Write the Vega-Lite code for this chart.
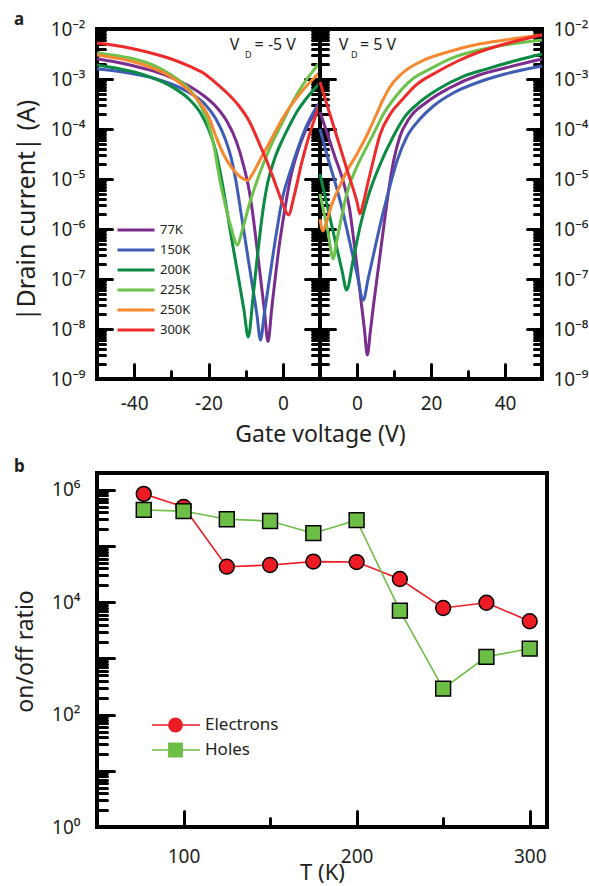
{
  "$schema": "https://vega.github.io/schema/vega-lite/v6.json",
  "padding": {"left": 12, "top": 9, "right": 0, "bottom": 0},
  "background": "white",
  "config": {
    "font": "Noto Sans",
    "view": {"stroke": "black", "strokeWidth": 4},
    "axis": {"domain": false, "grid": false, "tickColor": "black", "tickWidth": 3, "tickCap": "round", "labelColor": "#231f20", "titleColor": "#231f20", "labelFont": "Noto Sans", "titleFont": "Noto Sans", "titleFontWeight": "normal", "labelFontSize": 19, "titleFontSize": 23},
    "legend": {"labelFont": "Noto Sans", "labelColor": "#231f20", "padding": 0},
    "title": {"font": "Noto Sans", "color": "#231f20"},
    "text": {"font": "Noto Sans", "color": "#231f20"}
  },
  "datasets": {
    "iv": [
      {"side":"neg","T":"77K","V":-50,"I":2.51e-3},{"side":"neg","T":"77K","V":-45,"I":2.19e-3},{"side":"neg","T":"77K","V":-40,"I":1.82e-3},{"side":"neg","T":"77K","V":-35,"I":1.45e-3},{"side":"neg","T":"77K","V":-30,"I":1.07e-3},{"side":"neg","T":"77K","V":-25,"I":7.08e-4},{"side":"neg","T":"77K","V":-21,"I":4.47e-4},{"side":"neg","T":"77K","V":-18,"I":2.82e-4},{"side":"neg","T":"77K","V":-15,"I":1.41e-4},{"side":"neg","T":"77K","V":-12.5,"I":5.62e-5},{"side":"neg","T":"77K","V":-10.5,"I":1.78e-5},{"side":"neg","T":"77K","V":-9,"I":5.62e-6},{"side":"neg","T":"77K","V":-8,"I":1.78e-6},{"side":"neg","T":"77K","V":-7,"I":4.47e-7},{"side":"neg","T":"77K","V":-6,"I":1.05e-7},{"side":"neg","T":"77K","V":-5,"I":2.51e-8},{"side":"neg","T":"77K","V":-4,"I":5.62e-9},{"side":"neg","T":"77K","V":-3,"I":2.51e-8},{"side":"neg","T":"77K","V":-2,"I":1.12e-7},{"side":"neg","T":"77K","V":-1,"I":4.47e-7},{"side":"neg","T":"77K","V":0,"I":1.41e-6},{"side":"neg","T":"77K","V":1,"I":3.98e-6},{"side":"neg","T":"77K","V":2,"I":1e-5},{"side":"neg","T":"77K","V":4,"I":3.55e-5},{"side":"neg","T":"77K","V":6,"I":8.91e-5},{"side":"neg","T":"77K","V":8,"I":1.78e-4},{"side":"neg","T":"77K","V":10,"I":3.16e-4},
      {"side":"neg","T":"150K","V":-50,"I":1.58e-3},{"side":"neg","T":"150K","V":-45,"I":1.45e-3},{"side":"neg","T":"150K","V":-40,"I":1.26e-3},{"side":"neg","T":"150K","V":-35,"I":1.05e-3},{"side":"neg","T":"150K","V":-30,"I":7.94e-4},{"side":"neg","T":"150K","V":-25,"I":5.25e-4},{"side":"neg","T":"150K","V":-21,"I":3.16e-4},{"side":"neg","T":"150K","V":-18,"I":1.58e-4},{"side":"neg","T":"150K","V":-15.5,"I":6.31e-5},{"side":"neg","T":"150K","V":-14,"I":2.82e-5},{"side":"neg","T":"150K","V":-12.6,"I":8.91e-6},{"side":"neg","T":"150K","V":-11,"I":1.58e-6},{"side":"neg","T":"150K","V":-9,"I":1.78e-7},{"side":"neg","T":"150K","V":-7,"I":2.0e-8},{"side":"neg","T":"150K","V":-6,"I":6.03e-9},{"side":"neg","T":"150K","V":-5,"I":2.0e-8},{"side":"neg","T":"150K","V":-4,"I":6.31e-8},{"side":"neg","T":"150K","V":-3,"I":2.0e-7},{"side":"neg","T":"150K","V":-2,"I":6.31e-7},{"side":"neg","T":"150K","V":-1,"I":1.78e-6},{"side":"neg","T":"150K","V":0,"I":4.47e-6},{"side":"neg","T":"150K","V":2,"I":1.41e-5},{"side":"neg","T":"150K","V":4,"I":3.98e-5},{"side":"neg","T":"150K","V":6,"I":1e-4},{"side":"neg","T":"150K","V":8,"I":2.0e-4},{"side":"neg","T":"150K","V":10,"I":3.55e-4},
      {"side":"neg","T":"200K","V":-50,"I":1.91e-3},{"side":"neg","T":"200K","V":-45,"I":1.66e-3},{"side":"neg","T":"200K","V":-40,"I":1.38e-3},{"side":"neg","T":"200K","V":-35,"I":1.05e-3},{"side":"neg","T":"200K","V":-30,"I":7.08e-4},{"side":"neg","T":"200K","V":-25,"I":3.80e-4},{"side":"neg","T":"200K","V":-22,"I":2.0e-4},{"side":"neg","T":"200K","V":-20,"I":1e-4},{"side":"neg","T":"200K","V":-18,"I":3.55e-5},{"side":"neg","T":"200K","V":-16.5,"I":1e-5},{"side":"neg","T":"200K","V":-14,"I":7.94e-7},{"side":"neg","T":"200K","V":-12,"I":1.12e-7},{"side":"neg","T":"200K","V":-10.5,"I":2.51e-8},{"side":"neg","T":"200K","V":-9.3,"I":6.92e-9},{"side":"neg","T":"200K","V":-8,"I":4.47e-8},{"side":"neg","T":"200K","V":-7,"I":2.24e-7},{"side":"neg","T":"200K","V":-6,"I":1e-6},{"side":"neg","T":"200K","V":-5,"I":3.55e-6},{"side":"neg","T":"200K","V":-4,"I":8.91e-6},{"side":"neg","T":"200K","V":-2,"I":2.82e-5},{"side":"neg","T":"200K","V":0,"I":6.31e-5},{"side":"neg","T":"200K","V":2,"I":1.26e-4},{"side":"neg","T":"200K","V":4,"I":2.34e-4},{"side":"neg","T":"200K","V":6,"I":3.80e-4},{"side":"neg","T":"200K","V":8,"I":5.75e-4},{"side":"neg","T":"200K","V":10,"I":8.32e-4},
      {"side":"neg","T":"225K","V":-50,"I":3.31e-3},{"side":"neg","T":"225K","V":-45,"I":2.95e-3},{"side":"neg","T":"225K","V":-40,"I":2.51e-3},{"side":"neg","T":"225K","V":-35,"I":1.91e-3},{"side":"neg","T":"225K","V":-30,"I":1.20e-3},{"side":"neg","T":"225K","V":-25,"I":6.03e-4},{"side":"neg","T":"225K","V":-22,"I":2.82e-4},{"side":"neg","T":"225K","V":-20,"I":1.26e-4},{"side":"neg","T":"225K","V":-18.5,"I":4.47e-5},{"side":"neg","T":"225K","V":-17,"I":1e-5},{"side":"neg","T":"225K","V":-15.7,"I":3.55e-6},{"side":"neg","T":"225K","V":-14,"I":1.12e-6},{"side":"neg","T":"225K","V":-12.2,"I":4.79e-7},{"side":"neg","T":"225K","V":-11,"I":8.91e-7},{"side":"neg","T":"225K","V":-9,"I":3.16e-6},{"side":"neg","T":"225K","V":-7,"I":8.91e-6},{"side":"neg","T":"225K","V":-5,"I":2.24e-5},{"side":"neg","T":"225K","V":-3,"I":5.01e-5},{"side":"neg","T":"225K","V":0,"I":1.41e-4},{"side":"neg","T":"225K","V":2,"I":2.82e-4},{"side":"neg","T":"225K","V":4,"I":5.25e-4},{"side":"neg","T":"225K","V":6,"I":8.91e-4},{"side":"neg","T":"225K","V":8,"I":1.41e-3},{"side":"neg","T":"225K","V":10,"I":2.19e-3},
      {"side":"neg","T":"250K","V":-50,"I":3.02e-3},{"side":"neg","T":"250K","V":-45,"I":2.63e-3},{"side":"neg","T":"250K","V":-40,"I":2.19e-3},{"side":"neg","T":"250K","V":-35,"I":1.66e-3},{"side":"neg","T":"250K","V":-30,"I":1.10e-3},{"side":"neg","T":"250K","V":-25,"I":5.62e-4},{"side":"neg","T":"250K","V":-22,"I":3.16e-4},{"side":"neg","T":"250K","V":-20,"I":1.78e-4},{"side":"neg","T":"250K","V":-18,"I":7.08e-5},{"side":"neg","T":"250K","V":-16,"I":3.16e-5},{"side":"neg","T":"250K","V":-14,"I":1.78e-5},{"side":"neg","T":"250K","V":-12,"I":1.20e-5},{"side":"neg","T":"250K","V":-11,"I":1.05e-5},{"side":"neg","T":"250K","V":-9.5,"I":9.33e-6},{"side":"neg","T":"250K","V":-8,"I":1.32e-5},{"side":"neg","T":"250K","V":-6,"I":2.51e-5},{"side":"neg","T":"250K","V":-4,"I":4.68e-5},{"side":"neg","T":"250K","V":-2,"I":8.91e-5},{"side":"neg","T":"250K","V":0,"I":1.66e-4},{"side":"neg","T":"250K","V":2,"I":2.82e-4},{"side":"neg","T":"250K","V":4,"I":4.47e-4},{"side":"neg","T":"250K","V":6,"I":6.76e-4},{"side":"neg","T":"250K","V":8,"I":9.77e-4},{"side":"neg","T":"250K","V":10,"I":1.38e-3},
      {"side":"neg","T":"300K","V":-50,"I":5.25e-3},{"side":"neg","T":"300K","V":-45,"I":4.68e-3},{"side":"neg","T":"300K","V":-40,"I":3.98e-3},{"side":"neg","T":"300K","V":-35,"I":3.24e-3},{"side":"neg","T":"300K","V":-30,"I":2.51e-3},{"side":"neg","T":"300K","V":-25,"I":1.78e-3},{"side":"neg","T":"300K","V":-21,"I":1.26e-3},{"side":"neg","T":"300K","V":-18,"I":8.32e-4},{"side":"neg","T":"300K","V":-15,"I":5.25e-4},{"side":"neg","T":"300K","V":-12,"I":3.02e-4},{"side":"neg","T":"300K","V":-9,"I":1.41e-4},{"side":"neg","T":"300K","V":-6,"I":4.47e-5},{"side":"neg","T":"300K","V":-4,"I":2.0e-5},{"side":"neg","T":"300K","V":-2,"I":7.94e-6},{"side":"neg","T":"300K","V":0,"I":3.16e-6},{"side":"neg","T":"300K","V":1.5,"I":1.91e-6},{"side":"neg","T":"300K","V":3,"I":4.47e-6},{"side":"neg","T":"300K","V":5,"I":2.0e-5},{"side":"neg","T":"300K","V":7,"I":7.08e-5},{"side":"neg","T":"300K","V":9,"I":2.0e-4},{"side":"neg","T":"300K","V":10,"I":3.31e-4},
      {"side":"pos","T":"77K","V":-10,"I":2.19e-4},{"side":"pos","T":"77K","V":-8,"I":7.94e-5},{"side":"pos","T":"77K","V":-6,"I":2.82e-5},{"side":"pos","T":"77K","V":-4,"I":1.05e-5},{"side":"pos","T":"77K","V":-3,"I":5.62e-6},{"side":"pos","T":"77K","V":-2,"I":2.51e-6},{"side":"pos","T":"77K","V":-1,"I":7.08e-7},{"side":"pos","T":"77K","V":0,"I":1.78e-7},{"side":"pos","T":"77K","V":1,"I":4.17e-8},{"side":"pos","T":"77K","V":2,"I":1e-8},{"side":"pos","T":"77K","V":2.8,"I":3.02e-9},{"side":"pos","T":"77K","V":3.6,"I":8.91e-9},{"side":"pos","T":"77K","V":4.5,"I":3.16e-8},{"side":"pos","T":"77K","V":6,"I":2.24e-7},{"side":"pos","T":"77K","V":7.5,"I":1.58e-6},{"side":"pos","T":"77K","V":8.9,"I":8.71e-6},{"side":"pos","T":"77K","V":10,"I":2.51e-5},{"side":"pos","T":"77K","V":11.6,"I":7.08e-5},{"side":"pos","T":"77K","V":14,"I":1.58e-4},{"side":"pos","T":"77K","V":18.9,"I":3.47e-4},{"side":"pos","T":"77K","V":25,"I":6.61e-4},{"side":"pos","T":"77K","V":33,"I":1.20e-3},{"side":"pos","T":"77K","V":40,"I":1.66e-3},{"side":"pos","T":"77K","V":50,"I":2.51e-3},
      {"side":"pos","T":"150K","V":-10,"I":1e-4},{"side":"pos","T":"150K","V":-8,"I":2.82e-5},{"side":"pos","T":"150K","V":-6,"I":8.91e-6},{"side":"pos","T":"150K","V":-4,"I":2.51e-6},{"side":"pos","T":"150K","V":-2,"I":5.62e-7},{"side":"pos","T":"150K","V":0,"I":1.26e-7},{"side":"pos","T":"150K","V":1.7,"I":3.80e-8},{"side":"pos","T":"150K","V":3,"I":1e-7},{"side":"pos","T":"150K","V":4.5,"I":3.16e-7},{"side":"pos","T":"150K","V":6,"I":1e-6},{"side":"pos","T":"150K","V":8.5,"I":5.62e-6},{"side":"pos","T":"150K","V":11,"I":2.51e-5},{"side":"pos","T":"150K","V":13.5,"I":7.08e-5},{"side":"pos","T":"150K","V":17,"I":1.58e-4},{"side":"pos","T":"150K","V":20.5,"I":2.82e-4},{"side":"pos","T":"150K","V":26,"I":5.25e-4},{"side":"pos","T":"150K","V":33,"I":8.71e-4},{"side":"pos","T":"150K","V":40,"I":1.26e-3},{"side":"pos","T":"150K","V":50,"I":1.82e-3},
      {"side":"pos","T":"200K","V":-10,"I":1.26e-5},{"side":"pos","T":"200K","V":-8,"I":2.82e-6},{"side":"pos","T":"200K","V":-6,"I":6.31e-7},{"side":"pos","T":"200K","V":-4,"I":1.41e-7},{"side":"pos","T":"200K","V":-2.8,"I":6.03e-8},{"side":"pos","T":"200K","V":-1,"I":2.51e-7},{"side":"pos","T":"200K","V":1,"I":1.26e-6},{"side":"pos","T":"200K","V":3,"I":4.47e-6},{"side":"pos","T":"200K","V":6,"I":1.78e-5},{"side":"pos","T":"200K","V":9.8,"I":7.08e-5},{"side":"pos","T":"200K","V":13,"I":1.78e-4},{"side":"pos","T":"200K","V":17,"I":3.47e-4},{"side":"pos","T":"200K","V":22,"I":6.31e-4},{"side":"pos","T":"200K","V":28.6,"I":1.12e-3},{"side":"pos","T":"200K","V":35,"I":1.58e-3},{"side":"pos","T":"200K","V":42,"I":2.24e-3},{"side":"pos","T":"200K","V":50,"I":3.16e-3},
      {"side":"pos","T":"225K","V":-10,"I":5.01e-6},{"side":"pos","T":"225K","V":-9,"I":2.24e-6},{"side":"pos","T":"225K","V":-8,"I":1e-6},{"side":"pos","T":"225K","V":-7.2,"I":4.47e-7},{"side":"pos","T":"225K","V":-6.5,"I":2.51e-7},{"side":"pos","T":"225K","V":-5.5,"I":5.62e-7},{"side":"pos","T":"225K","V":-4,"I":2.0e-6},{"side":"pos","T":"225K","V":-2.6,"I":5.62e-6},{"side":"pos","T":"225K","V":0,"I":1.78e-5},{"side":"pos","T":"225K","V":2,"I":3.55e-5},{"side":"pos","T":"225K","V":4.3,"I":7.59e-5},{"side":"pos","T":"225K","V":7,"I":1.91e-4},{"side":"pos","T":"225K","V":10.8,"I":4.79e-4},{"side":"pos","T":"225K","V":15,"I":1e-3},{"side":"pos","T":"225K","V":19.7,"I":1.58e-3},{"side":"pos","T":"225K","V":25,"I":2.51e-3},{"side":"pos","T":"225K","V":33,"I":3.80e-3},{"side":"pos","T":"225K","V":40,"I":4.79e-3},{"side":"pos","T":"225K","V":50,"I":6.03e-3},
      {"side":"pos","T":"250K","V":-10,"I":1.58e-6},{"side":"pos","T":"250K","V":-9.2,"I":9.12e-7},{"side":"pos","T":"250K","V":-8.2,"I":1.41e-6},{"side":"pos","T":"250K","V":-7,"I":2.82e-6},{"side":"pos","T":"250K","V":-5,"I":6.31e-6},{"side":"pos","T":"250K","V":-3,"I":1.32e-5},{"side":"pos","T":"250K","V":0,"I":3.16e-5},{"side":"pos","T":"250K","V":2.7,"I":7.59e-5},{"side":"pos","T":"250K","V":5,"I":1.78e-4},{"side":"pos","T":"250K","V":7,"I":3.80e-4},{"side":"pos","T":"250K","V":9,"I":7.08e-4},{"side":"pos","T":"250K","V":12,"I":1.26e-3},{"side":"pos","T":"250K","V":17,"I":2.19e-3},{"side":"pos","T":"250K","V":25,"I":3.55e-3},{"side":"pos","T":"250K","V":33,"I":5.01e-3},{"side":"pos","T":"250K","V":40,"I":6.03e-3},{"side":"pos","T":"250K","V":50,"I":7.59e-3},
      {"side":"pos","T":"300K","V":-10,"I":8.71e-4},{"side":"pos","T":"300K","V":-7.5,"I":2.19e-4},{"side":"pos","T":"300K","V":-5,"I":5.50e-5},{"side":"pos","T":"300K","V":-2.5,"I":1.38e-5},{"side":"pos","T":"300K","V":0,"I":3.47e-6},{"side":"pos","T":"300K","V":0.8,"I":2.0e-6},{"side":"pos","T":"300K","V":1.8,"I":3.55e-6},{"side":"pos","T":"300K","V":3,"I":8.71e-6},{"side":"pos","T":"300K","V":4.5,"I":2.51e-5},{"side":"pos","T":"300K","V":6.2,"I":7.59e-5},{"side":"pos","T":"300K","V":9,"I":2.0e-4},{"side":"pos","T":"300K","V":12.4,"I":3.98e-4},{"side":"pos","T":"300K","V":16,"I":7.59e-4},{"side":"pos","T":"300K","V":21.6,"I":1.38e-3},{"side":"pos","T":"300K","V":27,"I":2.24e-3},{"side":"pos","T":"300K","V":33,"I":3.47e-3},{"side":"pos","T":"300K","V":40,"I":5.01e-3},{"side":"pos","T":"300K","V":50,"I":7.59e-3}
    ],
    "annot": [
      {"side":"neg","kind":"main","text":"V","V":-14.3,"I":4.79e-3},
      {"side":"neg","kind":"sub","text":"D","V":-10.2,"I":3.02e-3},
      {"side":"neg","kind":"main","text":"= -5 V","V":-7.6,"I":4.79e-3},
      {"side":"pos","kind":"main","text":"V","V":-4.9,"I":4.79e-3},
      {"side":"pos","kind":"sub","text":"D","V":-1.6,"I":3.02e-3},
      {"side":"pos","kind":"main","text":"= 5 V","V":0.8,"I":4.79e-3}
    ],
    "ratio": [
      {"carrier":"Electrons","T":77,"ratio":8.5e5},{"carrier":"Electrons","T":100,"ratio":5.0e5},{"carrier":"Electrons","T":125,"ratio":4.3e4},{"carrier":"Electrons","T":150,"ratio":4.6e4},{"carrier":"Electrons","T":175,"ratio":5.3e4},{"carrier":"Electrons","T":200,"ratio":5.2e4},{"carrier":"Electrons","T":225,"ratio":2.6e4},{"carrier":"Electrons","T":250,"ratio":7.9e3},{"carrier":"Electrons","T":275,"ratio":9.8e3},{"carrier":"Electrons","T":300,"ratio":4.6e3},
      {"carrier":"Holes","T":77,"ratio":4.4e5},{"carrier":"Holes","T":100,"ratio":4.2e5},{"carrier":"Holes","T":125,"ratio":3.0e5},{"carrier":"Holes","T":150,"ratio":2.8e5},{"carrier":"Holes","T":175,"ratio":1.7e5},{"carrier":"Holes","T":200,"ratio":2.9e5},{"carrier":"Holes","T":225,"ratio":7.1e3},{"carrier":"Holes","T":250,"ratio":2.9e2},{"carrier":"Holes","T":275,"ratio":1.07e3},{"carrier":"Holes","T":300,"ratio":1.5e3}
    ]
  },
  "spacing": 8,
  "bounds": "full",
  "vconcat": [
    {
      "spacing": 0,
      "bounds": "flush",
      "hconcat": [
        {
          "width": 223,
          "height": 350,
          "title": {"text": "a", "anchor": "start", "frame": "bounds", "fontSize": 17, "fontWeight": "bold", "offset": -9},
          "resolve": {"axis": {"y": "independent"}},
          "encoding": {
            "x": {"field": "V", "type": "quantitative", "scale": {"domain": [-50, 10], "nice": false, "zero": false},
              "axis": {"values": [-40, -30, -20, -10, 0], "tickSize": {"condition": {"test": "datum.value % 20 == 0", "value": -15}, "value": -8}, "labelExpr": "datum.value % 20 == 0 ? '' + datum.value : ''", "labelPadding": 30, "labelOverlap": false, "title": "Gate voltage (V)", "titleX": 223, "titleY": 55, "titleAlign": "center", "titleBaseline": "middle"}}
          },
          "layer": [
            {
              "data": {"name": "iv"},
              "transform": [{"filter": "datum.side == 'neg'"}],
              "mark": {"type": "line", "strokeWidth": 3, "interpolate": "monotone"},
              "encoding": {
                "y": {"field": "I", "type": "quantitative", "scale": {"type": "log", "domain": [1e-9, 1e-2], "nice": false},
                  "axis": {"orient": "left", "values": [1e-9,2e-9,3e-9,4e-9,5e-9,6e-9,7e-9,8e-9,9e-9,1e-8,2e-8,3e-8,4e-8,5e-8,6e-8,7e-8,8e-8,9e-8,1e-7,2e-7,3e-7,4e-7,5e-7,6e-7,7e-7,8e-7,9e-7,1e-6,2e-6,3e-6,4e-6,5e-6,6e-6,7e-6,8e-6,9e-6,1e-5,2e-5,3e-5,4e-5,5e-5,6e-5,7e-5,8e-5,9e-5,1e-4,2e-4,3e-4,4e-4,5e-4,6e-4,7e-4,8e-4,9e-4,1e-3,2e-3,3e-3,4e-3,5e-3,6e-3,7e-3,8e-3,9e-3,1e-2],
                    "tickSize": {"condition": {"test": "abs(log(datum.value)/LN10 - round(log(datum.value)/LN10)) < 0.01", "value": -15}, "value": -8},
                    "labelExpr": "abs(log(datum.value)/LN10 - round(log(datum.value)/LN10)) < 0.01 ? '10⁻' + ['⁰','¹','²','³','⁴','⁵','⁶','⁷','⁸','⁹'][-round(log(datum.value)/LN10)] : ''",
                    "labelPadding": 27, "labelOverlap": false, "title": "|Drain current| (A)", "titleFontSize": 25, "titleX": -71, "titleY": 181, "titleAngle": -90, "titleAlign": "center", "titleBaseline": "middle"}},
                "color": {"field": "T", "type": "nominal",
                  "scale": {"domain": ["77K", "150K", "200K", "225K", "250K", "300K"], "range": ["#7B2D8E", "#3F5DB5", "#0B8A43", "#6CC24A", "#F7882F", "#EE2A2A"]},
                  "legend": {"orient": "none", "legendX": 19, "legendY": 194, "title": null, "symbolType": "stroke", "symbolSize": 1369, "symbolStrokeWidth": 3, "clipHeight": 14, "rowPadding": 6, "labelFontSize": 13, "labelOffset": 4}}
              }
            },
            {
              "data": {"name": "annot"},
              "transform": [{"filter": "datum.side == 'neg' && datum.kind == 'main'"}],
              "mark": {"type": "text", "align": "left", "baseline": "middle", "fontSize": 16},
              "encoding": {
                "y": {"field": "I", "type": "quantitative", "scale": {"type": "log", "domain": [1e-9, 1e-2], "nice": false},
                  "axis": {"orient": "right", "values": [1e-9,2e-9,3e-9,4e-9,5e-9,6e-9,7e-9,8e-9,9e-9,1e-8,2e-8,3e-8,4e-8,5e-8,6e-8,7e-8,8e-8,9e-8,1e-7,2e-7,3e-7,4e-7,5e-7,6e-7,7e-7,8e-7,9e-7,1e-6,2e-6,3e-6,4e-6,5e-6,6e-6,7e-6,8e-6,9e-6,1e-5,2e-5,3e-5,4e-5,5e-5,6e-5,7e-5,8e-5,9e-5,1e-4,2e-4,3e-4,4e-4,5e-4,6e-4,7e-4,8e-4,9e-4,1e-3,2e-3,3e-3,4e-3,5e-3,6e-3,7e-3,8e-3,9e-3,1e-2],
                    "tickSize": {"condition": {"test": "abs(log(datum.value)/LN10 - round(log(datum.value)/LN10)) < 0.01", "value": -15}, "value": -8},
                    "labels": false, "title": null}},
                "text": {"field": "text", "type": "nominal"}
              }
            },
            {
              "data": {"name": "annot"},
              "transform": [{"filter": "datum.side == 'neg' && datum.kind == 'sub'"}],
              "mark": {"type": "text", "align": "left", "baseline": "middle", "fontSize": 9},
              "encoding": {
                "y": {"field": "I", "type": "quantitative", "scale": {"type": "log", "domain": [1e-9, 1e-2], "nice": false}, "axis": null},
                "text": {"field": "text", "type": "nominal"}
              }
            }
          ]
        },
        {
          "width": 222,
          "height": 350,
          "resolve": {"axis": {"y": "independent"}},
          "encoding": {
            "x": {"field": "V", "type": "quantitative", "scale": {"domain": [-10, 50], "nice": false, "zero": false},
              "axis": {"values": [0, 10, 20, 30, 40], "tickSize": {"condition": {"test": "datum.value % 20 == 0", "value": -15}, "value": -8}, "labelExpr": "datum.value % 20 == 0 ? '' + datum.value : ''", "labelPadding": 30, "labelOverlap": false, "title": null}}
          },
          "layer": [
            {
              "data": {"name": "iv"},
              "transform": [{"filter": "datum.side == 'pos'"}],
              "mark": {"type": "line", "strokeWidth": 3, "interpolate": "monotone"},
              "encoding": {
                "y": {"field": "I", "type": "quantitative", "scale": {"type": "log", "domain": [1e-9, 1e-2], "nice": false},
                  "axis": {"orient": "left", "values": [1e-9,2e-9,3e-9,4e-9,5e-9,6e-9,7e-9,8e-9,9e-9,1e-8,2e-8,3e-8,4e-8,5e-8,6e-8,7e-8,8e-8,9e-8,1e-7,2e-7,3e-7,4e-7,5e-7,6e-7,7e-7,8e-7,9e-7,1e-6,2e-6,3e-6,4e-6,5e-6,6e-6,7e-6,8e-6,9e-6,1e-5,2e-5,3e-5,4e-5,5e-5,6e-5,7e-5,8e-5,9e-5,1e-4,2e-4,3e-4,4e-4,5e-4,6e-4,7e-4,8e-4,9e-4,1e-3,2e-3,3e-3,4e-3,5e-3,6e-3,7e-3,8e-3,9e-3,1e-2],
                    "tickSize": {"condition": {"test": "abs(log(datum.value)/LN10 - round(log(datum.value)/LN10)) < 0.01", "value": -15}, "value": -8},
                    "labels": false, "title": null}},
                "color": {"field": "T", "type": "nominal",
                  "scale": {"domain": ["77K", "150K", "200K", "225K", "250K", "300K"], "range": ["#7B2D8E", "#3F5DB5", "#0B8A43", "#6CC24A", "#F7882F", "#EE2A2A"]},
                  "legend": null}
              }
            },
            {
              "data": {"name": "annot"},
              "transform": [{"filter": "datum.side == 'pos' && datum.kind == 'main'"}],
              "mark": {"type": "text", "align": "left", "baseline": "middle", "fontSize": 16},
              "encoding": {
                "y": {"field": "I", "type": "quantitative", "scale": {"type": "log", "domain": [1e-9, 1e-2], "nice": false},
                  "axis": {"orient": "right", "values": [1e-9,2e-9,3e-9,4e-9,5e-9,6e-9,7e-9,8e-9,9e-9,1e-8,2e-8,3e-8,4e-8,5e-8,6e-8,7e-8,8e-8,9e-8,1e-7,2e-7,3e-7,4e-7,5e-7,6e-7,7e-7,8e-7,9e-7,1e-6,2e-6,3e-6,4e-6,5e-6,6e-6,7e-6,8e-6,9e-6,1e-5,2e-5,3e-5,4e-5,5e-5,6e-5,7e-5,8e-5,9e-5,1e-4,2e-4,3e-4,4e-4,5e-4,6e-4,7e-4,8e-4,9e-4,1e-3,2e-3,3e-3,4e-3,5e-3,6e-3,7e-3,8e-3,9e-3,1e-2],
                    "tickSize": {"condition": {"test": "abs(log(datum.value)/LN10 - round(log(datum.value)/LN10)) < 0.01", "value": -15}, "value": -8},
                    "labelExpr": "abs(log(datum.value)/LN10 - round(log(datum.value)/LN10)) < 0.01 ? '10⁻' + ['⁰','¹','²','³','⁴','⁵','⁶','⁷','⁸','⁹'][-round(log(datum.value)/LN10)] : ''",
                    "labelPadding": 26, "labelOverlap": false, "title": null}},
                "text": {"field": "text", "type": "nominal"}
              }
            },
            {
              "data": {"name": "annot"},
              "transform": [{"filter": "datum.side == 'pos' && datum.kind == 'sub'"}],
              "mark": {"type": "text", "align": "left", "baseline": "middle", "fontSize": 9},
              "encoding": {
                "y": {"field": "I", "type": "quantitative", "scale": {"type": "log", "domain": [1e-9, 1e-2], "nice": false}, "axis": null},
                "text": {"field": "text", "type": "nominal"}
              }
            }
          ]
        }
      ]
    },
    {
      "width": 450,
      "height": 354,
      "title": {"text": "b", "anchor": "start", "frame": "bounds", "fontSize": 17, "fontWeight": "bold", "offset": -3},
      "data": {"name": "ratio"},
      "encoding": {
        "x": {"field": "T", "type": "quantitative", "scale": {"domain": [50, 310], "nice": false, "zero": false},
          "axis": {"values": [100, 150, 200, 250, 300], "tickSize": {"condition": {"test": "datum.value % 100 == 0", "value": -16}, "value": -9}, "labelExpr": "datum.value % 100 == 0 ? '' + datum.value : ''", "labelPadding": 36, "labelOverlap": false, "title": "T (K)", "titleFontSize": 22, "titleX": 225, "titleY": 45, "titleAlign": "center", "titleBaseline": "middle"}},
        "y": {"field": "ratio", "type": "quantitative", "scale": {"type": "log", "domain": [1, 2e6], "nice": false},
          "axis": {"values": [1,2,3,4,5,6,7,8,9,10,20,30,40,50,60,70,80,90,100,200,300,400,500,600,700,800,900,1000,2000,3000,4000,5000,6000,7000,8000,9000,10000,20000,30000,40000,50000,60000,70000,80000,90000,100000,200000,300000,400000,500000,600000,700000,800000,900000,1000000],
            "tickSize": {"condition": {"test": "abs(log(datum.value)/LN10 - round(log(datum.value)/LN10)) < 0.01", "value": -17}, "value": -10},
            "labelExpr": "abs(log(datum.value)/LN10 - round(log(datum.value)/LN10)) < 0.01 && round(log(datum.value)/LN10) % 2 == 0 ? '10' + ['⁰','¹','²','³','⁴','⁵','⁶','⁷','⁸','⁹'][round(log(datum.value)/LN10)] : ''",
            "labelPadding": 34, "labelOverlap": false, "title": "on/off ratio", "titleX": -72, "titleY": 178, "titleAngle": -90, "titleAlign": "center", "titleBaseline": "middle"}}
      },
      "layer": [
        {
          "mark": {"type": "line", "strokeWidth": 1.6},
          "encoding": {
            "stroke": {"field": "carrier", "type": "nominal", "scale": {"domain": ["Electrons", "Holes"], "range": ["#ED1C24", "#6DBE45"]},
              "legend": {"orient": "none", "legendX": 54, "legendY": 687, "title": null, "symbolType": "stroke", "symbolSize": 2304, "symbolStrokeWidth": 1.6, "clipHeight": 18, "rowPadding": 7, "labelExpr": "''", "labelFontSize": 17}}
          }
        },
        {
          "mark": {"type": "point", "filled": true, "size": 220, "stroke": "black", "strokeWidth": 1.5, "opacity": 1},
          "encoding": {
            "fill": {"field": "carrier", "type": "nominal", "scale": {"range": ["#ED1C24", "#6DBE45"]},
              "legend": {"orient": "none", "legendX": 70, "legendY": 687, "title": null, "symbolSize": 220, "symbolStrokeColor": "black", "symbolStrokeWidth": 1.5, "clipHeight": 18, "rowPadding": 7, "labelFontSize": 17, "labelOffset": 21}},
            "shape": {"field": "carrier", "type": "nominal", "scale": {"range": ["circle", "square"]},
              "legend": {"orient": "none", "legendX": 70, "legendY": 687, "title": null, "symbolSize": 220, "symbolStrokeColor": "black", "symbolStrokeWidth": 1.5, "clipHeight": 18, "rowPadding": 7, "labelFontSize": 17, "labelOffset": 21}}
          }
        }
      ]
    }
  ]
}
